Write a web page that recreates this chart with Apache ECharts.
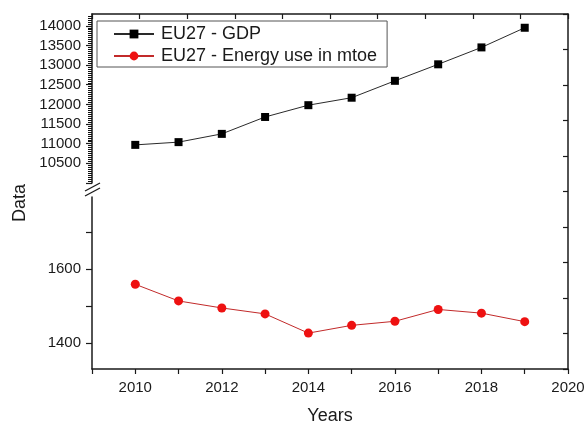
<!DOCTYPE html>
<html>
<head>
<meta charset="utf-8">
<script src="https://cdn.jsdelivr.net/npm/echarts@6/dist/echarts.min.js"></script>
<style>
  html, body { margin: 0; padding: 0; background: #ffffff; }
  #chart { width: 584px; height: 423px; }
</style>
</head>
<body>
<div id="chart"></div>
<script>
// EU27 GDP and energy use, 2010-2019
const years = [2010, 2011, 2012, 2013, 2014, 2015, 2016, 2017, 2018, 2019];
const gdp = [10970, 11040, 11250, 11680, 11980, 12170, 12600, 13020, 13450, 13950];
const energy = [1559, 1514, 1495, 1479, 1427, 1448, 1459, 1491, 1481, 1458];

const yearLabels = [2010, 2012, 2014, 2016, 2018, 2020];
const gdpLabels = [10500, 11000, 11500, 12000, 12500, 13000, 13500, 14000];
const gdpTicks = [10000, 10500, 11000, 11500, 12000, 12500, 13000, 13500, 14000];
const energyLabels = [1400, 1600];
const energyTicks = [1400, 1500, 1600, 1700];

const FONT = "'Liberation Sans', Arial, sans-serif";
const INK = '#1a1a1a';

// plot frame in pixels
const L = 92, R = 16, T = 14, B = 54;
const UPPER_BOTTOM_Y = 183;   // lower end of the GDP segment
const LOWER_TOP_Y = 197;      // upper end of the energy segment

const chart = echarts.init(document.getElementById('chart'), null, { renderer: 'canvas' });

const axisLine = { show: true, onZero: false, lineStyle: { color: INK, width: 1.5 } };
const plain = v => String(v);

const option = {
  backgroundColor: '#ffffff',
  animation: false,
  textStyle: { fontFamily: FONT },
  grid: [
    { left: L, right: R, top: T, height: UPPER_BOTTOM_Y - T, outerBoundsMode: 'none' },
    { left: L, right: R, top: LOWER_TOP_Y, bottom: B, outerBoundsMode: 'none' },
    { left: L, right: R, top: T, bottom: B, outerBoundsMode: 'none' }
  ],
  xAxis: [
    { gridIndex: 0, type: 'value', min: 2009, max: 2020, interval: 1, show: false },
    {
      gridIndex: 1, type: 'value', min: 2009, max: 2020, interval: 1,
      name: 'Years', nameLocation: 'middle', nameGap: 38,
      nameTextStyle: { fontSize: 18, color: INK, fontFamily: FONT },
      axisLine: axisLine,
      axisTick: { show: true, inside: false, length: 5, lineStyle: { color: INK, width: 1.2 } },
      axisLabel: { customValues: yearLabels, formatter: plain, margin: 11, fontSize: 15, color: INK, fontFamily: FONT },
      splitLine: { show: false }
    },
    {
      gridIndex: 2, type: 'value', position: 'top', min: 0, max: 10, interval: 1,
      axisLine: axisLine,
      axisTick: { show: true, inside: true, length: 5, lineStyle: { color: INK, width: 1.2 } },
      axisLabel: { show: false },
      splitLine: { show: false }
    }
  ],
  yAxis: [
    {
      gridIndex: 0, type: 'value', min: 10000, max: 14300, interval: 500,
      axisLine: axisLine,
      axisTick: { show: true, inside: false, length: 6, customValues: gdpTicks, lineStyle: { color: INK, width: 1.2 } },
      minorTick: { show: true, splitNumber: 10, length: 4, lineStyle: { color: '#111111', width: 1 } },
      axisLabel: { customValues: gdpLabels, formatter: plain, margin: 11, fontSize: 15, color: INK, fontFamily: FONT },
      splitLine: { show: false }
    },
    {
      gridIndex: 1, type: 'value', min: 1330, max: 1795,
      axisLine: axisLine,
      axisTick: { show: true, inside: false, length: 6, customValues: energyTicks, lineStyle: { color: INK, width: 1.2 } },
      axisLabel: { customValues: energyLabels, formatter: plain, margin: 11, fontSize: 15, color: INK, fontFamily: FONT },
      splitLine: { show: false }
    },
    {
      gridIndex: 2, type: 'value', position: 'right', min: 0, max: 10, interval: 1,
      axisLine: axisLine,
      axisTick: { show: true, inside: true, length: 5, lineStyle: { color: INK, width: 1.2 } },
      axisLabel: { show: false },
      splitLine: { show: false }
    }
  ],
  legend: {
    orient: 'vertical',
    left: 97, top: 21,
    padding: [4, 10, 2, 16],
    itemGap: 4,
    itemWidth: 40, itemHeight: 11,
    borderColor: '#555555', borderWidth: 1,
    textStyle: { fontSize: 18, color: INK, fontFamily: FONT, padding: [0, 0, 0, 2] },
    data: ['EU27 - GDP', 'EU27 - Energy use in mtoe']
  },
  series: [
    {
      name: 'EU27 - GDP', type: 'line',
      xAxisIndex: 0, yAxisIndex: 0,
      data: years.map((y, i) => [y, gdp[i]]),
      symbol: 'rect', symbolSize: 8,
      itemStyle: { color: '#000000' },
      lineStyle: { color: '#2a2a2a', width: 1 }
    },
    {
      name: 'EU27 - Energy use in mtoe', type: 'line',
      xAxisIndex: 1, yAxisIndex: 1,
      data: years.map((y, i) => [y, energy[i]]),
      symbol: 'circle', symbolSize: 9,
      itemStyle: { color: '#ee1111' },
      lineStyle: { color: '#c22a2a', width: 1 }
    }
  ],
  graphic: [
    // axis break marks on the left spine
    { type: 'line', shape: { x1: L - 7, y1: 191, x2: L + 8, y2: 183 }, style: { stroke: INK, lineWidth: 1.3 } },
    { type: 'line', shape: { x1: L - 7, y1: 196, x2: L + 8, y2: 188 }, style: { stroke: INK, lineWidth: 1.3 } },
    // shared y-axis title
    {
      type: 'text', x: 20, y: 203, rotation: Math.PI / 2,
      style: { text: 'Data', fontSize: 18, fontFamily: FONT, fill: INK, align: 'center', verticalAlign: 'middle' }
    }
  ]
};

chart.setOption(option);
</script>
</body>
</html>
